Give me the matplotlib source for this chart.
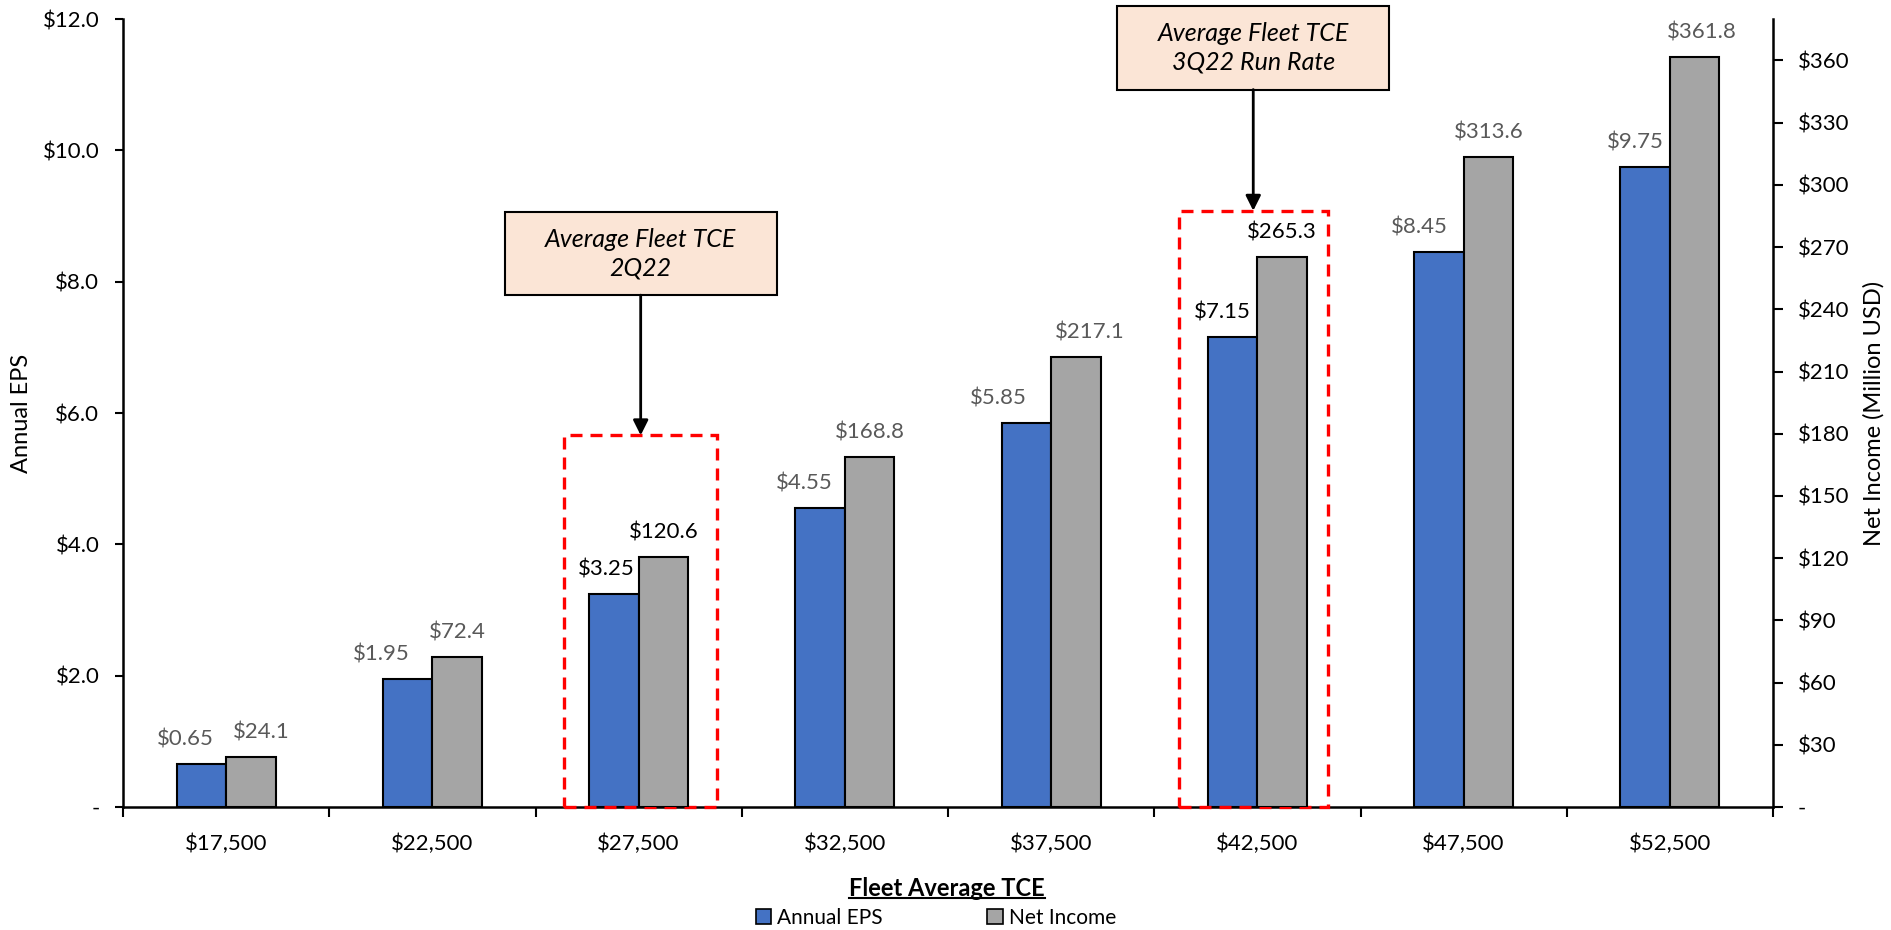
import numpy as np
import matplotlib
matplotlib.use("Agg")
import matplotlib.pyplot as plt
from matplotlib.patches import Rectangle, Patch
from matplotlib.lines import Line2D

plt.rcParams['font.family'] = ['Lato', 'DejaVu Sans']

# data
tce = ["$17,500", "$22,500", "$27,500", "$32,500", "$37,500", "$42,500", "$47,500", "$52,500"]
eps = [0.65, 1.95, 3.25, 4.55, 5.85, 7.15, 8.45, 9.75]
net_income = [24.1, 72.4, 120.6, 168.8, 217.1, 265.3, 313.6, 361.8]
highlight = [2, 5]
callouts = ["Average Fleet TCE\n2Q22", "Average Fleet TCE\n3Q22 Run Rate"]

blue = "#4472C4"
grey = "#A5A5A5"
label_grey = "#595959"

# label nudges in pixels (Excel moved a few labels sideways)
eps_dx = [-16, -26, -8, -16, -28, -10, -19, -10]
ni_dx = [10, 0, 0, 0, 14, 0, 0, 7]

fig = plt.figure(figsize=(18.91, 9.30), dpi=100)
ax = fig.add_axes([123 / 1891, 1 - 807 / 930, (1773 - 123) / 1891, (807 - 19) / 930])
ax2 = ax.twinx()

x = np.arange(len(tce))
w = 0.24
ax.bar(x - w / 2, eps, w, color=blue, edgecolor="black", linewidth=1.5, zorder=3)
ax2.bar(x + w / 2, net_income, w, color=grey, edgecolor="black", linewidth=1.5, zorder=3)

ax.set_xlim(-0.5, len(tce) - 0.5)
ax.set_ylim(0, 12)
ax2.set_ylim(0, 380)

px = 0.72  # points per pixel at 100 dpi
for i in range(len(tce)):
    c = "black" if i in highlight else label_grey
    ax.annotate(f"${eps[i]:.2f}", (x[i] - w / 2, eps[i]), xytext=(eps_dx[i] * px, 10.5),
                textcoords="offset points", ha="center", va="bottom", fontsize=16, color=c)
    ax2.annotate(f"${net_income[i]:.1f}", (x[i] + w / 2, net_income[i]), xytext=(ni_dx[i] * px, 10.5),
                 textcoords="offset points", ha="center", va="bottom", fontsize=16, color=c)

# axis ticks
ax.set_yticks(np.arange(0, 12.1, 2))
ax.set_yticklabels(["-"] + [f"${v:.1f}" for v in np.arange(2, 12.1, 2)])
ax2.set_yticks(np.arange(0, 361, 30))
ax2.set_yticklabels(["-"] + [f"${v}" for v in range(30, 361, 30)])
ax.set_xticks(x)
ax.set_xticklabels(tce)
ax.set_xticks(np.arange(-0.5, len(tce), 1), minor=True)
ax.tick_params(axis="x", which="major", length=0, pad=19, labelsize=16)
ax.tick_params(axis="x", which="minor", length=7, width=1.5, direction="out")
ax.tick_params(axis="y", length=6, width=1.5, pad=11, labelsize=16)
ax2.tick_params(axis="y", length=7, width=1.5, pad=11, labelsize=16)

for a in (ax, ax2):
    a.spines["top"].set_visible(False)
    for s in ("left", "right", "bottom"):
        a.spines[s].set_linewidth(1.8)
ax.spines["right"].set_visible(False)
ax2.spines["left"].set_visible(False)
ax2.spines["bottom"].set_visible(False)

ax.set_ylabel("Annual EPS", fontsize=17, labelpad=8)
ax2.set_ylabel("Net Income (Million USD)", fontsize=17, labelpad=10)

# red dashed highlight boxes, callouts and arrows
box_left = [-0.36, -0.38]
box_right = [0.38, 0.34]
box_top = [5.66, 9.08]
call_y = [8.43, 11.56]
call_h = 1.27
call_w = 1.32
for k, i in enumerate(highlight):
    r = Rectangle((i + box_left[k], 0), box_right[k] - box_left[k], box_top[k], fill=False,
                  edgecolor="#FF0000", linewidth=2.4, linestyle=(0, (3.6, 2.4)), zorder=5, clip_on=False)
    ax.add_patch(r)
    cx = i + (box_left[k] + box_right[k]) / 2
    cb = Rectangle((cx - call_w / 2, call_y[k] - call_h / 2), call_w, call_h,
                   facecolor="#FBE5D6", edgecolor="black", linewidth=1.5, zorder=6, clip_on=False)
    ax.add_patch(cb)
    ax.text(cx, call_y[k], callouts[k], ha="center", va="center", fontsize=18, style="italic",
            linespacing=1.3, zorder=7)
    ax.annotate("", xy=(cx, box_top[k]), xytext=(cx, call_y[k] - call_h / 2),
                arrowprops=dict(arrowstyle="-|>,head_length=0.9,head_width=0.45", color="black",
                                lw=2, shrinkA=0, shrinkB=0), zorder=7)

# x axis title, bold and underlined
t = fig.text(947 / 1891, 1 - 888 / 930, "Fleet Average TCE", ha="center", va="center",
             fontsize=17, fontweight="bold")
fig.canvas.draw()
bb = t.get_window_extent().transformed(fig.transFigure.inverted())
fig.add_artist(Line2D([bb.x0, bb.x1], [bb.y0 + 0.002, bb.y0 + 0.002], color="black", lw=1.5,
                      transform=fig.transFigure))

handles = [Patch(facecolor=blue, edgecolor="black", linewidth=1.2, label="Annual EPS"),
           Patch(facecolor=grey, edgecolor="black", linewidth=1.2, label="Net Income")]
fig.legend(handles=handles, loc="center", bbox_to_anchor=(936 / 1891, 1 - 918 / 930), ncol=2,
           frameon=False, fontsize=15, handlelength=0.75, handleheight=0.75, handletextpad=0.3,
           columnspacing=5.0, borderpad=0)

fig.savefig("out.png", dpi=100)
